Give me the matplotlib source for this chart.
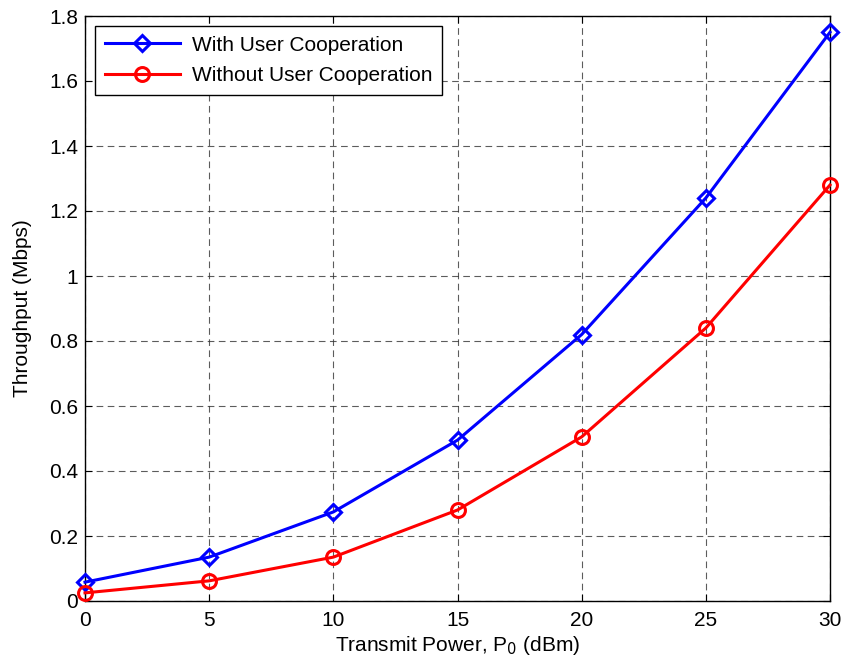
import matplotlib
matplotlib.use("Agg")
import matplotlib.pyplot as plt

plt.rcParams['font.family'] = ['Liberation Sans', 'DejaVu Sans']

power = [0, 5, 10, 15, 20, 25, 30]
with_coop = [0.058, 0.135, 0.274, 0.495, 0.82, 1.24, 1.75]
without_coop = [0.025, 0.062, 0.135, 0.28, 0.505, 0.84, 1.28]
xticks = [0, 5, 10, 15, 20, 25, 30]
yticks = [0, 0.2, 0.4, 0.6, 0.8, 1, 1.2, 1.4, 1.6, 1.8]
ytick_labels = ['0', '0.2', '0.4', '0.6', '0.8', '1', '1.2', '1.4', '1.6', '1.8']

fs = 15

fig = plt.figure(figsize=(8.41, 6.64), dpi=100)
ax = fig.add_axes([85/841, 63/664, 745/841, 585/664])

ax.plot(power, with_coop, color='#0000ff', lw=2.2, marker='D', ms=8, mfc='none', mew=2.2,
        label='With User Cooperation', clip_on=False, zorder=3)
ax.plot(power, without_coop, color='#ff0000', lw=2.2, marker='o', ms=10, mfc='none', mew=2.2,
        label='Without User Cooperation', clip_on=False, zorder=3)

ax.set_xlim(0, 30)
ax.set_ylim(0, 1.8)
ax.set_xticks(xticks)
ax.set_yticks(yticks)
ax.set_yticklabels(ytick_labels)
ax.tick_params(direction='in', top=True, right=True, labelsize=fs, length=5, width=0.8)
ax.tick_params(axis='x', pad=7)
ax.tick_params(axis='y', pad=5)
ax.grid(True, color='#333333', linestyle=(0, (6, 4)), linewidth=0.8, alpha=0.8)
for s in ax.spines.values():
    s.set_linewidth(1.0)

ax.set_xlabel('Transmit Power, P$_0$ (dBm)', fontsize=fs, labelpad=3)
ax.set_ylabel('Throughput (Mbps)', fontsize=fs, labelpad=12)

leg = ax.legend(loc='upper left', fontsize=fs, fancybox=False, edgecolor='black',
                framealpha=1, borderaxespad=0.5, handlelength=3.6, borderpad=0.45,
                labelspacing=0.55, handletextpad=0.6)
leg.get_frame().set_linewidth(1.0)

fig.savefig('out.png', dpi=100)
